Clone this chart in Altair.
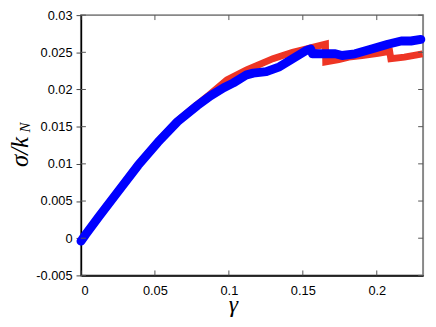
import altair as alt
import pandas as pd

# ---- data ----
blue_gamma = [0.0, 0.0031, 0.012, 0.0253, 0.0387, 0.052, 0.0653, 0.0787, 0.0875, 0.0965,
              0.1031, 0.112, 0.1165, 0.1253, 0.1342, 0.1431, 0.152, 0.1553, 0.1565,
              0.163, 0.172, 0.1765, 0.1853, 0.1965, 0.2075, 0.2165, 0.2231, 0.2298]
blue_sigma = [-0.0004, 0.00048, 0.00286, 0.00634, 0.00982, 0.0129, 0.01568, 0.01784, 0.01914, 0.02023,
              0.02089, 0.02197, 0.0222, 0.0224, 0.02305, 0.02414, 0.02522, 0.02544, 0.0248,
              0.0248, 0.0248, 0.02457, 0.0248, 0.02544, 0.02609, 0.02652, 0.02652, 0.02674]

red_gamma = [0.0, 0.0031, 0.012, 0.0253, 0.0387, 0.052, 0.0653, 0.0787, 0.0875, 0.0987,
             0.112, 0.1298, 0.1431, 0.152, 0.1565, 0.1653, 0.1655, 0.1742, 0.181, 0.19,
             0.2009, 0.2087, 0.2095, 0.2187, 0.2309]
red_sigma = [-0.0004, 0.0005, 0.0029, 0.0064, 0.0099, 0.013, 0.0158, 0.0180, 0.0194, 0.0213,
             0.02262, 0.02414, 0.025, 0.02544, 0.02565, 0.02609, 0.0237, 0.0240, 0.02435, 0.02457,
             0.02487, 0.02513, 0.02414, 0.02435, 0.02479]

x_ticks = [0, 0.05, 0.1, 0.15, 0.2]
y_ticks = [-0.005, 0, 0.005, 0.01, 0.015, 0.02, 0.025, 0.03]

W, H = 347, 264
XDOM = [0, 0.2313]
YDOM = [-0.005, 0.03]

red_df = pd.DataFrame({"g": red_gamma, "s": red_sigma, "i": range(len(red_gamma))})
blue_df = pd.DataFrame({"g": blue_gamma, "s": blue_sigma, "i": range(len(blue_gamma))})
xt_df = pd.DataFrame({"g": x_ticks})
yt_df = pd.DataFrame({"s": y_ticks})

xs = alt.Scale(domain=XDOM, nice=False, zero=False)
ys = alt.Scale(domain=YDOM, nice=False, zero=False)

lab = "'' + datum.value"

xaxis = alt.Axis(
    values=x_ticks, labelExpr=lab, ticks=False, grid=False, labelOverlap=False,
    labelFont="Liberation Sans", labelFontSize=13, labelColor="black", labelPadding=9,
    domainColor="black", domainWidth=1.5,
    title="γ", titleFont="Liberation Serif", titleFontStyle="italic", titleFontWeight="normal",
    titleFontSize=24, titleColor="black", titleX=154, titleY=37,
    titleAlign="center", titleBaseline="alphabetic")
yaxis = alt.Axis(
    values=y_ticks, labelExpr=lab, grid=False, tickSize=5, tickColor="#444", tickWidth=1,
    labelOverlap=False,
    labelFont="Liberation Sans", labelFontSize=13, labelColor="black", labelPadding=4,
    domainColor="black", domainWidth=1.5, title=None)

xenc = alt.X("g:Q", scale=xs, axis=xaxis)
yenc = alt.Y("s:Q", scale=ys, axis=yaxis)

red = alt.Chart(red_df).mark_line(color="#ee3524", strokeWidth=7, strokeJoin="miter",
                                  strokeCap="butt").encode(x=xenc, y=yenc, order="i:Q")
blue = alt.Chart(blue_df).mark_line(color="#0000ff", strokeWidth=9, strokeJoin="round",
                                    strokeCap="round").encode(x=xenc, y=yenc, order="i:Q")

tick_col = "#555"
top_t = alt.Chart(xt_df).mark_rule(color=tick_col).encode(
    x=xenc, y=alt.value(0), y2=alt.value(5))
bot_t = alt.Chart(xt_df).mark_rule(color=tick_col).encode(
    x=xenc, y=alt.value(H), y2=alt.value(H - 5))
left_t = alt.Chart(yt_df).mark_rule(color=tick_col).encode(
    y=yenc, x=alt.value(0), x2=alt.value(5))
right_t = alt.Chart(yt_df).mark_rule(color=tick_col).encode(
    y=yenc, x=alt.value(W - 5), x2=alt.value(W))

one = pd.DataFrame({"a": [0]})
ytitle = alt.Chart(one).mark_text(
    text="σ/k", angle=270, align="left", baseline="alphabetic",
    font="Liberation Serif", fontStyle="italic", fontSize=25, color="black").encode(
    x=alt.value(-54), y=alt.value(154))
ysub = alt.Chart(one).mark_text(
    text="N", angle=270, align="left", baseline="alphabetic",
    font="Liberation Serif", fontStyle="italic", fontSize=15, color="black").encode(
    x=alt.value(-52), y=alt.value(119))

chart = alt.layer(red, blue, top_t, bot_t, left_t, right_t, ytitle, ysub).properties(
    width=W, height=H,
    autosize=alt.AutoSizeParams(type="none"),
    padding={"left": 74, "top": 5, "right": 5, "bottom": 42},
).configure_view(stroke="#888", strokeWidth=2).configure_axis(labelBound=False, labelOverlap=False)

chart.save("out.html", embed_options={"renderer": "svg", "actions": False})
